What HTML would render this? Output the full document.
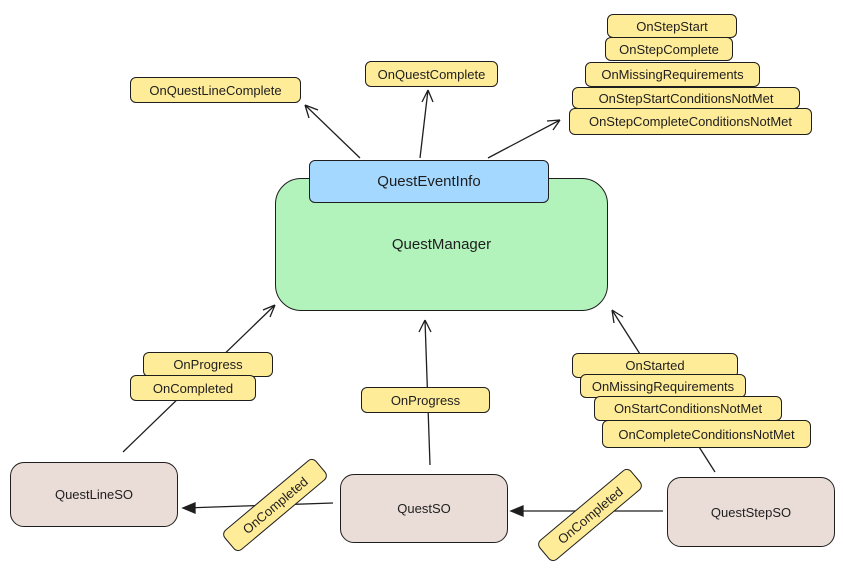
<!DOCTYPE html>
<html><head><style>
body{margin:0;width:843px;height:577px;background:#fff;position:relative;overflow:hidden;font-family:"Liberation Sans",sans-serif;color:#1e1e1e}
.b{position:absolute;box-sizing:border-box;border:1.5px solid #1e1e1e;border-radius:6px;display:flex;align-items:center;justify-content:center;font-size:13px;white-space:nowrap}
.y{background:#ffec99}
.t{background:#eaddd7;border-radius:14px;font-size:13px}
svg{position:absolute;left:0;top:0}
</style></head><body>
<svg width="843" height="577" fill="none" stroke="#1e1e1e" stroke-width="1.3">
<path d="M360 158L305 105M305 105l4 13M305 105l13 5"/>
<path d="M420 158L428 90M428 90l-6 12M428 90l5 12"/>
<path d="M488 158L560 120M560 120l-13 1M560 120l-7 10"/>
<path d="M123 452L275 305M275 305l-12 5M275 305l-5 12"/>
<path d="M430 465L425 320M425 320l-6 12M425 320l6 12"/>
<path d="M715 472L612 310M612 310l2 13M612 310l11 7"/>
<path d="M333 503L185 508"/>
<path d="M663 511L513 511"/>
<path d="M183 508l12-5v10z M511 511l12-5v10z" fill="#1e1e1e"/>
</svg>
<div class="b" style="left:275px;top:178px;width:333px;height:133px;background:#b2f2bb;border-radius:26px;font-size:15px">QuestManager</div>
<div class="b" style="left:309px;top:160px;width:240px;height:43px;background:#a5d8ff;font-size:15px">QuestEventInfo</div>
<div class="b y" style="left:130px;top:77px;width:171px;height:26px">OnQuestLineComplete</div>
<div class="b y" style="left:365px;top:61px;width:133px;height:26px">OnQuestComplete</div>
<div class="b y" style="left:607px;top:14px;width:130px;height:24px">OnStepStart</div>
<div class="b y" style="left:605px;top:37px;width:128px;height:24px">OnStepComplete</div>
<div class="b y" style="left:585px;top:62px;width:175px;height:25px">OnMissingRequirements</div>
<div class="b y" style="left:572px;top:87px;width:228px;height:22px">OnStepStartConditionsNotMet</div>
<div class="b y" style="left:569px;top:108px;width:243px;height:27px">OnStepCompleteConditionsNotMet</div>
<div class="b y" style="left:143px;top:352px;width:130px;height:25px">OnProgress</div>
<div class="b y" style="left:130px;top:375px;width:126px;height:26px">OnCompleted</div>
<div class="b y" style="left:361px;top:387px;width:129px;height:26px">OnProgress</div>
<div class="b y" style="left:572px;top:353px;width:166px;height:25px">OnStarted</div>
<div class="b y" style="left:580px;top:374px;width:166px;height:24px">OnMissingRequirements</div>
<div class="b y" style="left:594px;top:396px;width:188px;height:25px">OnStartConditionsNotMet</div>
<div class="b y" style="left:602px;top:420px;width:209px;height:28px">OnCompleteConditionsNotMet</div>
<div class="b t" style="left:10px;top:462px;width:168px;height:65px">QuestLineSO</div>
<div class="b t" style="left:340px;top:474px;width:168px;height:69px">QuestSO</div>
<div class="b t" style="left:667px;top:477px;width:168px;height:70px">QuestStepSO</div>
<div class="b y" style="left:215px;top:492px;width:120px;height:26px;transform:rotate(-40deg)">OnCompleted</div>
<div class="b y" style="left:530px;top:502px;width:120px;height:26px;transform:rotate(-40deg)">OnCompleted</div>
</body></html>
